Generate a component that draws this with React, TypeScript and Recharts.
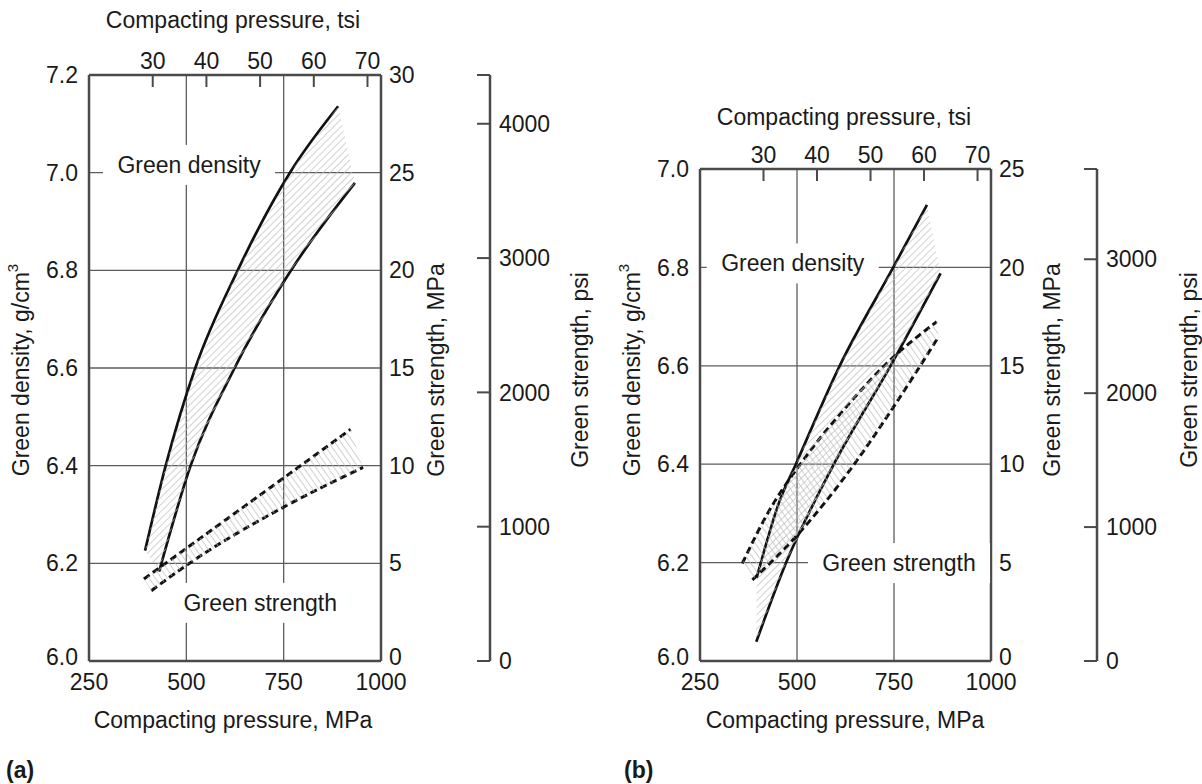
import React from "react";
import {
  ComposedChart,
  Line,
  Scatter,
  XAxis,
  YAxis,
  CartesianGrid,
  ReferenceDot,
} from "recharts";

// points are [compacting pressure MPa, value]
type Pt = [number, number];

// (a) green density, g/cm3
const densityUpperA: Pt[] = [[394, 6.226], [447, 6.4], [523, 6.6], [632, 6.8], [766, 7.0], [890, 7.136]];
const densityLowerA: Pt[] = [[430, 6.183], [511, 6.4], [624, 6.6], [769, 6.8], [933, 6.979]];
// (a) green strength, MPa
const strengthUpperA: Pt[] = [[391, 4.2], [752, 9.4], [922, 11.86]];
const strengthLowerA: Pt[] = [[410, 3.6], [501, 4.91], [752, 7.9], [954, 9.91]];

// (b) green density, g/cm3
const densityUpperB: Pt[] = [[396, 6.169], [456, 6.327], [497, 6.4], [610, 6.6], [748, 6.8], [835, 6.927]];
const densityLowerB: Pt[] = [[395, 6.039], [472, 6.2], [595, 6.4], [741, 6.6], [870, 6.788]];
// (b) green strength, MPa
const strengthUpperB: Pt[] = [[359, 4.96], [425, 7.52], [520, 10.31], [631, 13.0], [727, 15.04], [860, 17.24]];
const strengthLowerB: Pt[] = [[385, 4.12], [497, 6.32], [646, 9.96], [738, 12.59], [865, 16.48]];

// axis ticks
const mpaTicks = [250, 500, 750, 1000];
const tsiTicks = [30, 40, 50, 60, 70];
const MPA_PER_TSI = 13.79;
const densityTicksA = [6.0, 6.2, 6.4, 6.6, 6.8, 7.0, 7.2];
const densityTicksB = [6.0, 6.2, 6.4, 6.6, 6.8, 7.0];
const strengthTicksA = [0, 5, 10, 15, 20, 25, 30];
const strengthTicksB = [0, 5, 10, 15, 20, 25];
const psiTicksA = [0, 1000, 2000, 3000, 4000];
const psiTicksB = [0, 1000, 2000, 3000];

const FONT = '"Liberation Sans", Arial, Helvetica, sans-serif';
const INK = "#1a1a1a";
const FRAME = "#4a4a4a";
const GRID = "#5c5c5c";
const HATCH = "#bdbdbd";
const FS = 23;

const rows = (pts: Pt[]) => pts.map(([p, v]) => ({ p, v }));
// closed outline: upper curve forward, lower curve back
const band = (upper: Pt[], lower: Pt[]) => [...rows(upper), ...rows([...lower].reverse())];

const tickStyle = { fontSize: FS, fill: INK, fontFamily: FONT };
const frameLine = { stroke: FRAME, strokeWidth: 2.5 };

// y-axis tick text; the bottom (zero) label sits a little higher, as in the print
const yTick = (fmt: (v: number) => string, bottom: number) => (props: any) => {
  const { x, y, payload, textAnchor } = props;
  const lift = payload.value === bottom ? 4 : 0;
  return (
    <text x={x} y={y - lift} dy="0.355em" textAnchor={textAnchor} fontSize={FS} fontFamily={FONT} fill={INK}>
      {fmt(payload.value)}
    </text>
  );
};

const vTitle = (x: number, y: number, children: React.ReactNode) => (
  <text
    x={x}
    y={y}
    transform={`rotate(-90 ${x} ${y})`}
    textAnchor="middle"
    dominantBaseline="central"
    fontSize={FS}
    fontFamily={FONT}
    fill={INK}
  >
    {children}
  </text>
);

const hTitle = (x: number, y: number, text: string, bold = false, anchor = "middle") => (
  <text
    x={x}
    y={y}
    textAnchor={anchor}
    dominantBaseline="central"
    fontSize={FS}
    fontFamily={FONT}
    fontWeight={bold ? "bold" : "normal"}
    fill={INK}
  >
    {text}
  </text>
);

// text sitting in a white box that cuts the grid lines
const boxLabel = (text: string, w: number) => (props: any) => {
  const { cx, cy } = props;
  return (
    <g>
      <rect x={cx - w / 2} y={cy - 20} width={w} height={40} fill="#fff" />
      <text x={cx} y={cy} textAnchor="middle" dominantBaseline="central" fontSize={FS} fontFamily={FONT} fill={INK}>
        {text}
      </text>
    </g>
  );
};

interface PanelProps {
  id: string;
  left: number;
  width: number;
  topH: number;
  leftW: number;
  mpaW: number;
  psiW: number;
  densityUpper: Pt[];
  densityLower: Pt[];
  strengthUpper: Pt[];
  strengthLower: Pt[];
  densityTicks: number[];
  strengthTicks: number[];
  psiTicks: number[];
  psiMax: number;
  densityLabel: [number, number];
  strengthLabel: [number, number];
  titles: {
    top: [number, number];
    bottom: [number, number];
    letter: [number, string];
    left: number;
    mpa: number;
    psi: number;
  };
}

const Panel: React.FC<PanelProps> = (c) => {
  const dMin = c.densityTicks[0];
  const dMax = c.densityTicks[c.densityTicks.length - 1];
  const sMax = c.strengthTicks[c.strengthTicks.length - 1];
  const up = `up-${c.id}`;
  const down = `down-${c.id}`;

  return (
    <div style={{ position: "absolute", left: c.left, top: 0, width: c.width, height: 784 }}>
      <ComposedChart width={c.width} height={784} margin={{ top: 0, right: 0, bottom: 0, left: 0 }}>
        <defs>
          <pattern id={up} patternUnits="userSpaceOnUse" width="5" height="5" patternTransform="rotate(45)">
            <line x1="0" y1="0" x2="0" y2="5" stroke={HATCH} strokeWidth="1.4" />
          </pattern>
          <pattern id={down} patternUnits="userSpaceOnUse" width="5" height="5" patternTransform="rotate(-35)">
            <line x1="0" y1="0" x2="0" y2="5" stroke={HATCH} strokeWidth="1.4" />
          </pattern>
        </defs>

        <CartesianGrid xAxisId="mpa" yAxisId="d" stroke={GRID} strokeWidth={1.3} />

        <ReferenceDot
          xAxisId="mpa"
          yAxisId="d"
          x={c.densityLabel[0]}
          y={c.densityLabel[1]}
          r={0}
          shape={boxLabel("Green density", 172)}
        />
        <ReferenceDot
          xAxisId="mpa"
          yAxisId="d"
          x={c.strengthLabel[0]}
          y={c.strengthLabel[1]}
          r={0}
          shape={boxLabel("Green strength", 182)}
        />

        {/* hatched bands (on the top axis, which carries the same MPa scale) */}
        <Scatter
          xAxisId="top"
          yAxisId="d"
          data={band(c.densityUpper, c.densityLower)}
          dataKey="v"
          shape={() => <g />}
          line={{ stroke: "none", fill: `url(#${up})` }}
          isAnimationActive={false}
        />
        <Scatter
          xAxisId="top"
          yAxisId="mpa"
          data={band(c.strengthUpper, c.strengthLower)}
          dataKey="v"
          shape={() => <g />}
          line={{ stroke: "none", fill: `url(#${down})` }}
          isAnimationActive={false}
        />

        {/* curves */}
        <Line xAxisId="mpa" yAxisId="d" data={rows(c.densityUpper)} dataKey="v" type="monotone"
          stroke="#111" strokeWidth={2.7} dot={false} activeDot={false} isAnimationActive={false} />
        <Line xAxisId="mpa" yAxisId="d" data={rows(c.densityLower)} dataKey="v" type="monotone"
          stroke="#111" strokeWidth={2.7} dot={false} activeDot={false} isAnimationActive={false} />
        <Line xAxisId="mpa" yAxisId="mpa" data={rows(c.strengthUpper)} dataKey="v" type="monotone"
          stroke="#111" strokeWidth={3} strokeDasharray="7 4" dot={false} activeDot={false} isAnimationActive={false} />
        <Line xAxisId="mpa" yAxisId="mpa" data={rows(c.strengthLower)} dataKey="v" type="monotone"
          stroke="#111" strokeWidth={3} strokeDasharray="7 4" dot={false} activeDot={false} isAnimationActive={false} />

        <XAxis
          xAxisId="mpa"
          dataKey="p"
          type="number"
          orientation="bottom"
          domain={[250, 1000]}
          ticks={mpaTicks}
          interval={0}
          allowDataOverflow
          height={123}
          tickLine={false}
          tickSize={0}
          tickMargin={13}
          axisLine={frameLine}
          tick={tickStyle}
          label={() => (
            <g>
              {hTitle(c.titles.bottom[0], c.titles.bottom[1], "Compacting pressure, MPa")}
              {hTitle(c.titles.letter[0], 770, c.titles.letter[1], true, "start")}
            </g>
          )}
        />
        <XAxis
          xAxisId="top"
          dataKey="p"
          type="number"
          orientation="top"
          domain={[250, 1000]}
          ticks={tsiTicks.map((t) => t * MPA_PER_TSI)}
          tickFormatter={(v: number) => String(Math.round(v / MPA_PER_TSI))}
          interval={0}
          allowDataOverflow
          height={c.topH}
          tickSize={-12}
          tickMargin={18}
          tickLine={{ stroke: FRAME, strokeWidth: 2 }}
          axisLine={frameLine}
          tick={tickStyle}
          label={() => hTitle(c.titles.top[0], c.titles.top[1], "Compacting pressure, tsi")}
        />
        <YAxis
          yAxisId="d"
          orientation="left"
          type="number"
          width={c.leftW}
          domain={[dMin, dMax]}
          ticks={c.densityTicks}
          interval={0}
          allowDataOverflow
          tickLine={false}
          tickSize={0}
          tickMargin={11}
          axisLine={frameLine}
          tick={yTick((v) => v.toFixed(1), dMin)}
          label={() =>
            vTitle(c.titles.left, 370, (
              <>
                Green density, g/cm<tspan dy={-9} fontSize={15}>3</tspan>
              </>
            ))
          }
        />
        <YAxis
          yAxisId="mpa"
          orientation="right"
          type="number"
          width={c.mpaW}
          domain={[0, sMax]}
          ticks={c.strengthTicks}
          interval={0}
          allowDataOverflow
          tickLine={false}
          tickSize={0}
          tickMargin={8}
          axisLine={frameLine}
          tick={yTick((v) => String(v), 0)}
          label={() => vTitle(c.titles.mpa, 370, "Green strength, MPa")}
        />
        <YAxis
          yAxisId="psi"
          orientation="right"
          type="number"
          width={c.psiW}
          domain={[0, c.psiMax]}
          ticks={[...c.psiTicks, c.psiMax]}
          interval={0}
          allowDataOverflow
          tickSize={-13}
          tickMargin={22}
          tickLine={{ stroke: FRAME, strokeWidth: 2 }}
          axisLine={frameLine}
          tick={yTick((v) => (v === c.psiMax ? "" : String(v)), -1)}
          label={() => vTitle(c.titles.psi, 370, "Green strength, psi")}
        />
      </ComposedChart>
    </div>
  );
};

export default function App() {
  return (
    <div style={{ position: "absolute", left: 0, top: 0, width: 1202, height: 784, background: "#fff" }}>
      <Panel
        id="a"
        left={0}
        width={600}
        topH={75}
        leftW={89}
        mpaW={109}
        psiW={110}
        densityUpper={densityUpperA}
        densityLower={densityLowerA}
        strengthUpper={strengthUpperA}
        strengthLower={strengthLowerA}
        densityTicks={densityTicksA}
        strengthTicks={strengthTicksA}
        psiTicks={psiTicksA}
        psiMax={4363}
        densityLabel={[507, 7.016]}
        strengthLabel={[690, 6.119]}
        titles={{ top: [233, 20], bottom: [233, 720], letter: [6, "(a)"], left: 21, mpa: 436, psi: 580 }}
      />
      <Panel
        id="b"
        left={600}
        width={602}
        topH={169}
        leftW={100}
        mpaW={106}
        psiW={105}
        densityUpper={densityUpperB}
        densityLower={densityLowerB}
        strengthUpper={strengthUpperB}
        strengthLower={strengthLowerB}
        densityTicks={densityTicksB}
        strengthTicks={strengthTicksB}
        psiTicks={psiTicksB}
        psiMax={3674}
        densityLabel={[489, 6.808]}
        strengthLabel={[763, 6.199]}
        titles={{ top: [244, 117], bottom: [245, 720], letter: [24, "(b)"], left: 32, mpa: 452, psi: 589 }}
      />
    </div>
  );
}
